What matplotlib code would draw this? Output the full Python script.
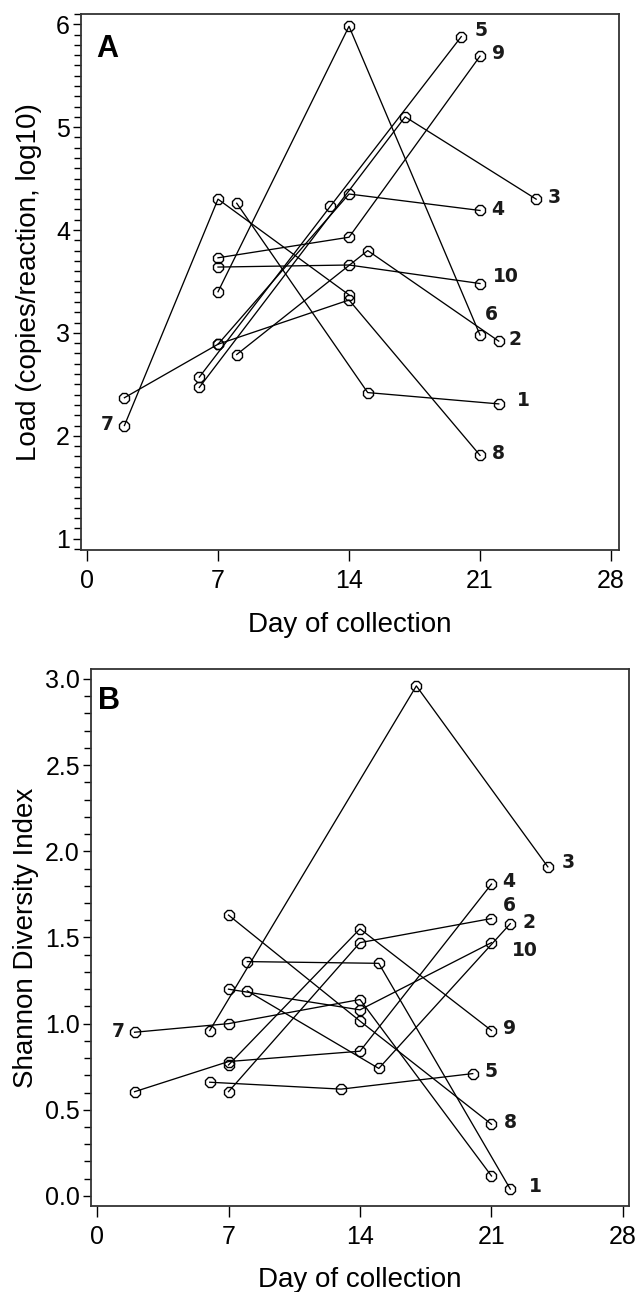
import matplotlib
matplotlib.use("Agg")
import matplotlib.pyplot as plt
from matplotlib.ticker import MultipleLocator, FormatStrFormatter

plt.rcParams['font.family'] = ['Liberation Sans', 'DejaVu Sans']

# Panel A: viral load per subject (day, log10 copies/reaction)
load_days = {
    "1": [8, 15, 22],
    "2": [8, 15, 22],
    "3": [6, 17, 24],
    "4": [2, 7, 14, 21],
    "5": [6, 13, 20],
    "6": [7, 14, 21],
    "7": [2, 7, 14],
    "8": [7, 14, 21],
    "9": [7, 14, 21],
    "10": [7, 14, 21],
}
load_vals = {
    "1": [4.26, 2.42, 2.31],
    "2": [2.79, 3.80, 2.92],
    "3": [2.47, 5.10, 4.30],
    "4": [2.37, 2.89, 4.35, 4.19],
    "5": [2.57, 4.23, 5.88],
    "6": [3.40, 5.98, 2.98],
    "7": [2.10, 4.30, 3.37],
    "8": [2.89, 3.32, 1.81],
    "9": [3.73, 3.93, 5.69],
    "10": [3.64, 3.66, 3.48],
}

# Panel B: Shannon diversity per subject
div_days = {
    "1": [8, 15, 22],
    "2": [8, 15, 22],
    "3": [6, 17, 24],
    "4": [2, 7, 14, 21],
    "5": [6, 13, 20],
    "6": [7, 14, 21],
    "7": [2, 7, 14, 21],
    "8": [7, 14, 21],
    "9": [7, 14, 21],
    "10": [7, 14, 21],
}
div_vals = {
    "1": [1.36, 1.35, 0.04],
    "2": [1.19, 0.74, 1.58],
    "3": [0.96, 2.96, 1.91],
    "4": [0.605, 0.78, 0.84, 1.81],
    "5": [0.66, 0.62, 0.71],
    "6": [0.605, 1.47, 1.61],
    "7": [0.95, 1.00, 1.14, 0.116],
    "8": [1.63, 1.015, 0.416],
    "9": [0.76, 1.55, 0.96],
    "10": [1.20, 1.08, 1.47],
}

# label offsets in pixels (dx, dy); "7" sits at the first point, the rest at the last
lab_a = {"1": (18, 3), "2": (10, 2), "3": (12, 2), "4": (11, 1), "5": (13, 6),
         "6": (5, 20), "7": (-11, 1), "8": (12, 2), "9": (12, 3), "10": (13, 7)}
lab_b = {"1": (19, 3), "2": (12, 1), "3": (14, 4), "4": (11, 3), "5": (12, 2),
         "6": (11, 13), "7": (-10, 1), "8": (12, 2), "9": (12, 2), "10": (20, -8)}


def draw_panel(ax, days, vals, labels):
    for key in days:
        ax.plot(days[key], vals[key], color='black', lw=0.95, marker='8',
                ms=8, mfc='none', mec='black', mew=1.0, zorder=3)
        dx, dy = labels[key]
        if key == "7":
            x, y, ha = days[key][0], vals[key][0], 'right'
        else:
            x, y, ha = days[key][-1], vals[key][-1], 'left'
        ax.annotate(key, (x, y), xytext=(dx, dy), textcoords='offset pixels',
                    ha=ha, va='center', fontsize=13.5, fontweight='bold',
                    family='DejaVu Sans', color='#1a1a1a')
    ax.set_xticks([0, 7, 14, 21, 28])
    ax.tick_params(axis='x', length=8, width=1, labelsize=18, pad=6)
    ax.tick_params(axis='y', which='major', length=6, width=1, labelsize=18, pad=2)
    ax.tick_params(axis='y', which='minor', length=5, width=1)
    ax.yaxis.set_minor_locator(MultipleLocator(0.1))
    for s in ax.spines.values():
        s.set_linewidth(1.3)
        s.set_color('#333333')
    ax.set_xlabel("Day of collection", fontsize=20, labelpad=13)


fig = plt.figure(figsize=(6.44, 12.92), dpi=100)

ax1 = fig.add_axes([0.1258, 0.5743, 0.8349, 0.4149])
draw_panel(ax1, load_days, load_vals, lab_a)
ax1.set_xlim(-0.32, 28.41)
ax1.set_ylim(0.89, 6.10)
ax1.set_yticks([1, 2, 3, 4, 5, 6])
ax1.set_ylabel("Load (copies/reaction, log10)", fontsize=20, labelpad=10)
ax1.text(0.028, 0.962, "A", transform=ax1.transAxes, fontsize=22,
         fontweight='bold', va='top')

ax2 = fig.add_axes([0.1413, 0.0666, 0.8354, 0.4156])
draw_panel(ax2, div_days, div_vals, lab_b)
ax2.set_xlim(-0.32, 28.32)
ax2.set_ylim(-0.058, 3.058)
ax2.set_yticks([0, 0.5, 1.0, 1.5, 2.0, 2.5, 3.0])
ax2.yaxis.set_major_formatter(FormatStrFormatter('%.1f'))
ax2.set_ylabel("Shannon Diversity Index", fontsize=20, labelpad=4)
ax2.text(0.013, 0.968, "B", transform=ax2.transAxes, fontsize=22,
         fontweight='bold', va='top')

fig.savefig("out.png", dpi=100)
